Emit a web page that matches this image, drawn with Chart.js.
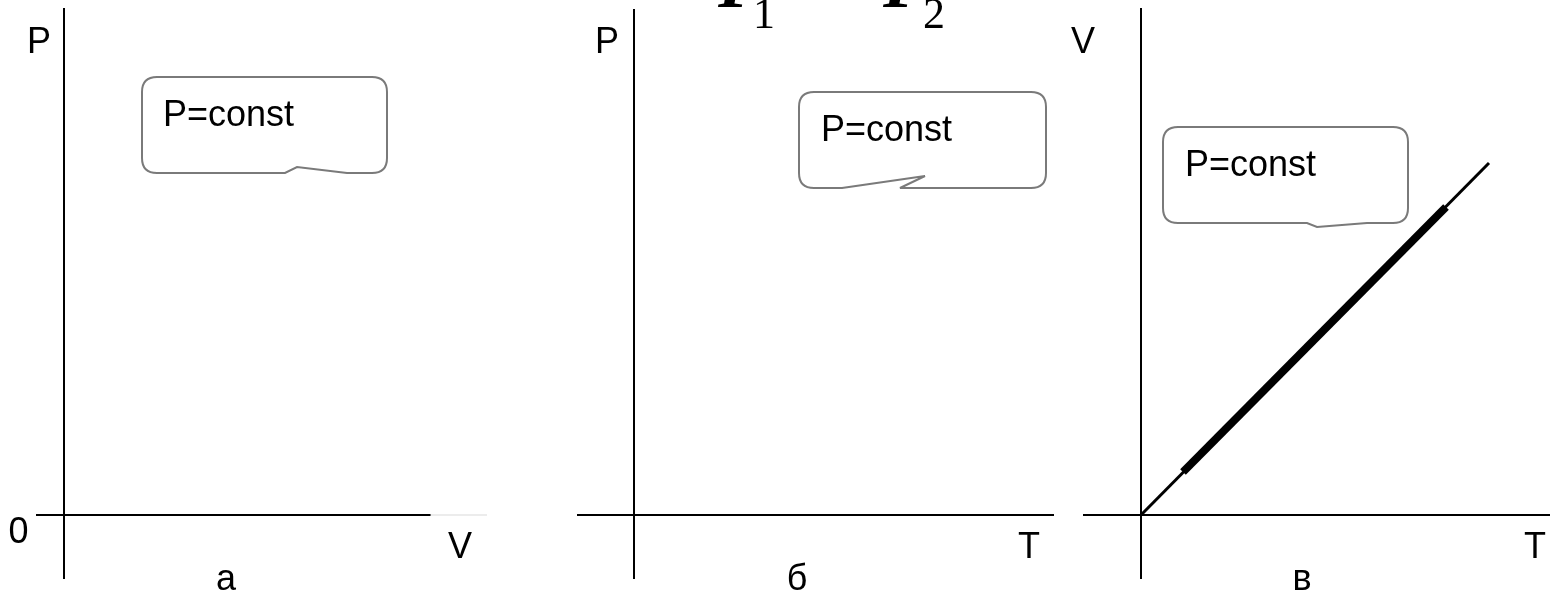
<!DOCTYPE html>
<html>
<head>
<meta charset="utf-8">
<script src="https://cdn.jsdelivr.net/npm/chart.js@4"></script>
<style>
    html, body { margin: 0; padding: 0; background: #fff; }
    #wrap { position: relative; width: 1550px; height: 594px; overflow: hidden; }
    canvas { position: absolute; top: 0; }
    svg { position: absolute; left: 0; top: 0; }
    .lbl { font-family: "Liberation Sans", Arial, sans-serif; font-size: 36px; fill: #000; }
</style>
</head>
<body>
<div id="wrap">
    <canvas id="chartA" width="560" height="594" style="left:0"></canvas>
    <canvas id="chartB" width="520" height="594" style="left:560px"></canvas>
    <canvas id="chartC" width="470" height="594" style="left:1080px"></canvas>
    <svg id="notes" width="1550" height="594"></svg>
</div>
<script>
// axis limits, in the same arbitrary units for every panel
const rangeA_V = [-0.27, 3.66];
const rangeA_P = [-0.63, 5.06];
const rangeB_T = [-0.56, 4.19];
const rangeB_P = [-0.63, 5.05];
const rangeC_T = [-0.57, 4.09];
const rangeC_V = [-0.63, 5.06];

// panel в: isobar V ~ T, thin full line and thick working part
const isobarT = [0, 3.48];
const isobarV = [0, 3.52];
const processT = [0.42, 3.05];
const processV = [0.43, 3.08];

// faint leftover of the V axis in panel а
const tailV = [3.66, 4.23];
const tailP = [0, 0];

// texts
const panelNames = ['а', 'б', 'в'];
const yTitles = ['P', 'P', 'V'];
const xTitles = ['V', 'T', 'T'];
const originLabel = '0';
const noteText = 'P=const';

const toPoints = (xs, ys) => xs.map((x, i) => ({ x: x, y: ys[i] }));

function makeChart(id, xRange, yRange, pad, datasets) {
    const axis = (range, pos) => ({
        type: 'linear',
        min: range[0],
        max: range[1],
        bounds: 'data',
        position: pos,
        grid: { display: false, drawTicks: false },
        ticks: { display: false },
        border: { display: true, color: '#000', width: 2 },
    });
    return new Chart(document.getElementById(id), {
        type: 'scatter',
        data: { datasets: datasets },
        options: {
            responsive: false,
            animation: false,
            devicePixelRatio: 1,
            layout: { padding: pad, autoPadding: false },
            plugins: { legend: { display: false }, tooltip: { enabled: false } },
            elements: { point: { radius: 0, hoverRadius: 0 } },
            scales: {
                x: axis(xRange, { y: 0 }),
                y: axis(yRange, { x: 0 }),
            },
        },
    });
}

makeChart('chartA', rangeA_V, rangeA_P, { left: 37, right: 130, top: 9, bottom: 16 }, [
    {
        data: toPoints(tailV, tailP),
        showLine: true,
        borderColor: '#d9d9d9',
        borderWidth: 1,
        clip: false,
    },
]);

makeChart('chartB', rangeB_T, rangeB_P, { left: 18, right: 27, top: 10, bottom: 16 }, []);

makeChart('chartC', rangeC_T, rangeC_V, { left: 4, right: 0, top: 9, bottom: 16 }, [
    {
        data: toPoints(isobarT, isobarV),
        showLine: true,
        borderColor: '#000',
        borderWidth: 3,
    },
    {
        data: toPoints(processT, processV),
        showLine: true,
        borderColor: '#000',
        borderWidth: 8,
        borderCapStyle: 'butt',
    },
]);

// callouts and labels
function bubble(x1, y1, x2, y2, r, notch) {
    let d = `M${x1 + r},${y1} L${x2 - r},${y1} Q${x2},${y1} ${x2},${y1 + r} L${x2},${y2 - r} Q${x2},${y2} ${x2 - r},${y2}`;
    notch.forEach(p => { d += ` L${p[0]},${p[1]}`; });
    d += ` L${x1 + r},${y2} Q${x1},${y2} ${x1},${y2 - r} L${x1},${y1 + r} Q${x1},${y1} ${x1 + r},${y1} Z`;
    return `<path d="${d}" fill="#fff" stroke="#7a7a7a" stroke-width="2"/>`;
}

const txt = (x, y, s, anchor, cls) =>
    `<text class="${cls || 'lbl'}" x="${x}" y="${y}" text-anchor="${anchor || 'middle'}">${s}</text>`;

let svg = '';
svg += bubble(142, 77, 387, 173, 15, [[347, 173], [297, 167], [285, 173]]);
svg += bubble(799, 92, 1046, 188, 15, [[900, 188], [925, 176], [842, 188]]);
svg += bubble(1163, 127, 1408, 223, 15, [[1367, 223], [1317, 227], [1307, 223]]);
svg += txt(163, 126, noteText, 'start');
svg += txt(821, 141, noteText, 'start');
svg += txt(1185, 176, noteText, 'start');

svg += txt(39, 53, yTitles[0]);
svg += txt(607, 53, yTitles[1]);
svg += txt(1083, 53, yTitles[2]);
svg += txt(460, 558, xTitles[0]);
svg += txt(1029, 558, xTitles[1]);
svg += txt(1535, 558, xTitles[2]);
svg += txt(18.5, 543, originLabel);
svg += txt(226, 590, panelNames[0]);
svg += txt(797, 590, panelNames[1]);
svg += txt(1302, 590, panelNames[2]);

// cut-off heading above the panels
const serif = 'font-family="Liberation Serif, Times New Roman, serif"';
svg += `<text x="718" y="7" ${serif} font-size="72" font-weight="bold" font-style="italic">P</text>`;
svg += `<text x="764" y="28" ${serif} font-size="44" text-anchor="middle">1</text>`;
svg += `<text x="883" y="7" ${serif} font-size="72" font-weight="bold" font-style="italic">P</text>`;
svg += `<text x="934" y="28" ${serif} font-size="44" text-anchor="middle">2</text>`;

document.getElementById('notes').innerHTML = svg;
</script>
</body>
</html>
